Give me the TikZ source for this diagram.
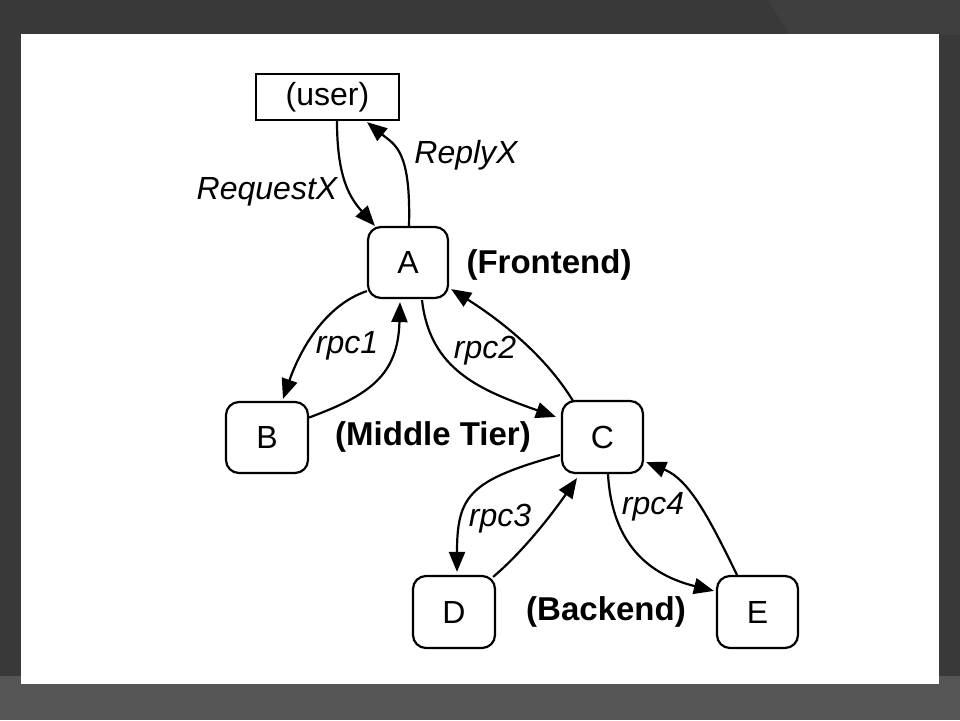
\documentclass[tikz,border=0pt]{standalone}
\usepackage{fontspec}
\setmainfont{Liberation Sans}
\usetikzlibrary{arrows.meta,calc}
\definecolor{bgdark}{HTML}{393939}
\definecolor{bgtop}{HTML}{3F3F3F}
\definecolor{bgbot}{HTML}{555555}
\begin{document}
\begin{tikzpicture}[x=1pt,y=-1pt,
  box/.style={draw=black,line width=2.2pt,rounded corners=13pt,fill=white,inner sep=0pt,
    minimum width=81pt,minimum height=71pt,font=\fontsize{32}{36}\selectfont},
  userbox/.style={draw=black,line width=2.2pt,fill=white,inner sep=0pt,
    minimum width=143pt,minimum height=46pt,font=\fontsize{32}{36}\selectfont},
  lbl/.style={font=\fontsize{32}{36}\selectfont\itshape,inner sep=0pt},
  tier/.style={font=\fontsize{33}{37}\selectfont\bfseries,inner sep=0pt},
  conn/.style={line width=2.2pt,-{Triangle[length=20pt,width=16pt]}},
]
% background
\fill[bgdark] (0,0) rectangle (960,720);
\fill[bgtop] (768,0) -- (960,0) -- (960,35) -- (790,35) -- cycle;
\fill[bgbot] (0,676) rectangle (960,720);
\fill[white] (21,34) rectangle (939,684);

% nodes
\node[userbox] (user) at (327.5,97) {(user)};
\node[box,minimum width=80pt] (A) at (408,262.5) {A};
\node[box,minimum width=82pt] (B) at (267,437.5) {B};
\node[box,minimum height=72pt] (C) at (602.5,437) {C};
\node[box,minimum width=82pt,minimum height=72pt] (D) at (454,612) {D};
\node[box,minimum height=72pt] (E) at (757.5,612) {E};

% labels
\node[lbl] (lreq) at (267,192) {RequestX};
\node[lbl] (lrep) at (466,155) {ReplyX};
\node[lbl] (l1) at (347,346) {rpc1};
\node[lbl] (l2) at (485,351) {rpc2};
\node[lbl] (l3) at (500,519) {rpc3};
\node[lbl] (l4) at (653,507) {rpc4};
\node[tier] (tf) at (549,265) {(Frontend)};
\node[tier] (tm) at (433,437) {(Middle Tier)};
\node[tier] (tb) at (606,612) {(Backend)};

% connectors
\draw[conn] ($(user.south)+(9.5,0)$) .. controls (337,178) and (350,198) .. ($(A.north west)+(8,0)$);
\draw[conn] ($(A.north)+(1,0)$) .. controls (411,150) and (395,145) .. ($(user.south)+(39.5,1)$);
\draw[conn] ($(A.south west)+(0,-8)$) .. controls (325,305) and (300,350) .. ($(B.north)+(16,-2)$);
\draw[conn] ($(B.east)+(0,-20)$) .. controls (370,395) and (398,375) .. ($(A.south)+(-8,3)$);
\draw[conn] ($(A.south)+(14,1)$) .. controls (430,370) and (480,390) .. ($(C.north west)+(-5,17)$);
\draw[conn] ($(C.north)+(-29.5,1)$) .. controls (545,355) and (500,320) .. ($(A.south east)+(2,-10)$);
\draw[conn] ($(C.west)+(-1,18)$) .. controls (470,480) and (457,495) .. ($(D.north)+(3,-3)$);
\draw[conn] ($(D.north east)+(-3,2)$) .. controls (525,550) and (555,510) .. ($(C.south)+(-25.5,4)$);
\draw[conn] ($(C.south)+(5.5,0)$) .. controls (612,545) and (650,575) .. ($(E.north west)+(-2,16)$);
\draw[conn] ($(E.north)+(-20.5,0)$) .. controls (710,520) and (690,480) .. ($(C.east)+(2,25)$);
\end{tikzpicture}
\end{document}
